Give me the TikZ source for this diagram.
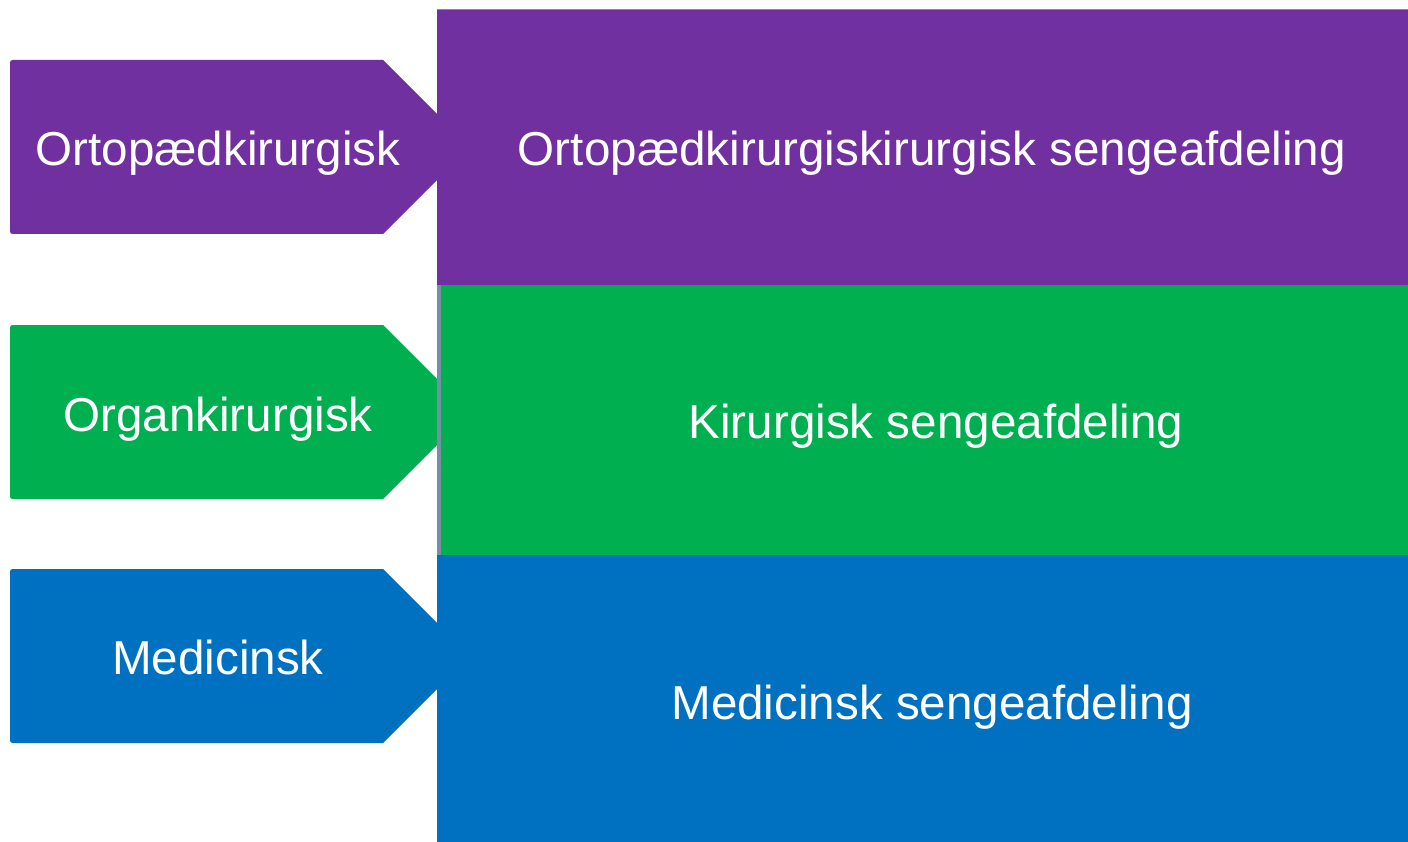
\documentclass[tikz,border=0pt]{standalone}
\usepackage{fontspec}
\setmainfont{Liberation Sans}
\definecolor{cpurple}{HTML}{7030A0}
\definecolor{cgreen}{HTML}{00B050}
\definecolor{cblue}{HTML}{0070C0}
\definecolor{cedge}{HTML}{7390A4}
\begin{document}
\begin{tikzpicture}[x=1pt,y=-1pt,
  lbl/.style={text=white,font=\fontsize{47.6}{57}\selectfont,inner sep=0pt,anchor=base}]
\useasboundingbox (0,0) rectangle (1408,842);
% arrows
\foreach \c/\t in {cpurple/60,cgreen/325,cblue/569}{
  \fill[\c] (383,\t) -- ({383+87},{\t+87}) -- (383,{\t+174})
    [rounded corners=2.5pt] -- (10,{\t+174}) -- (10,\t) [sharp corners] -- cycle;
}
% rectangles
\fill[cpurple] (437,9) rectangle (1408,285);
\draw[cedge,line width=0.8pt] (437,9.4) -- (1408,9.4);
\fill[cgreen] (437,285) rectangle (1408,555);
\fill[cedge] (437,285) rectangle (441,555);
\fill[cblue] (437,555) rectangle (1408,842);
% labels
\node[lbl] (l1) at (218,166) {Ortopædkirurgisk};
\node[lbl] (l2) at (218,431) {Organkirurgisk};
\node[lbl] (l3) at (218,674) {Medicinsk};
\node[lbl] (r1) at (932,166) {Ortopædkirurgiskirurgisk sengeafdeling};
\node[lbl] (r2) at (936,438) {Kirurgisk sengeafdeling};
\node[lbl] (r3) at (932,719) {Medicinsk sengeafdeling};
\end{tikzpicture}
\end{document}
